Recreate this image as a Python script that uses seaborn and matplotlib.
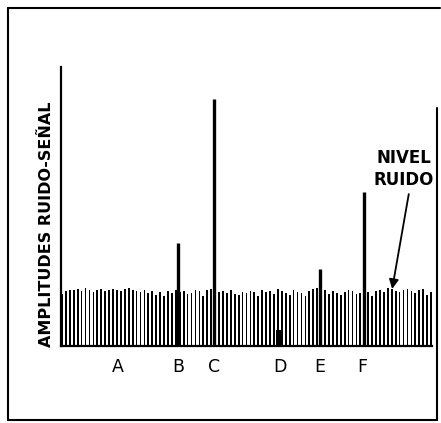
import matplotlib
matplotlib.use("Agg")
import matplotlib.pyplot as plt
from matplotlib.lines import Line2D
import pandas as pd
import seaborn as sns

# alturas del ruido (una barra por muestra)
ruido = [52, 55, 56, 56, 57, 55, 58, 56, 54, 56, 57, 55, 56, 57, 56, 55, 57, 58, 56, 55, 54, 56, 53, 55,
         51, 54, 50, 55, 53, 56, 54, 55, 52, 53, 56, 55, 50, 56, 57, 51, 54, 55, 53, 56, 52, 51, 54,
         53, 55, 54, 50, 56, 54, 55, 52, 57, 55, 53, 51, 56, 54, 53, 50, 55, 57, 58, 54, 56, 52, 55, 53,
         51, 54, 56, 55, 52, 53, 55, 54, 50, 55, 56, 54, 58, 57, 55, 54, 56, 57, 55, 53, 56, 57, 51, 54]

# picos de señal (B, C, E, F)
picos_pos = [29.6, 38.8, 65.6, 77.0]
picos_alt = [103, 247, 77, 154]

# bloque oscuro junto a D
bloque_pos = [55.2]
bloque_alt = [16]

etiquetas = ["A", "B", "C", "D", "E", "F"]
etiquetas_pos = [14.3, 29.5, 38.7, 55.5, 65.7, 76.6]

sns.set_style("white")
plt.rcParams["font.family"] = ["DejaVu Sans"]
plt.rcParams["text.color"] = "black"
plt.rcParams["axes.labelcolor"] = "black"
plt.rcParams["xtick.color"] = "black"

fig = plt.figure(figsize=(4.41, 4.23), dpi=100)
ax = fig.add_axes([61 / 441, 1 - 346 / 423, (432 - 61) / 441, (346 - 67) / 423])

df = pd.DataFrame({"pos": range(len(ruido)), "amp": ruido})
sns.barplot(data=df, x="pos", y="amp", native_scale=True, color="black",
            width=0.45, saturation=1, linewidth=0, ax=ax)
ax.vlines(picos_pos, 0, picos_alt, color="black", linewidth=2.4)
ax.bar(bloque_pos, bloque_alt, width=1.3, color="black", linewidth=0)

ax.set_xlim(-0.25, 94.25)
ax.set_ylim(0, 279)
sns.despine(ax=ax)
for s in ["left", "bottom"]:
    ax.spines[s].set_color("black")
    ax.spines[s].set_linewidth(1.6)

ax.set_xticks(etiquetas_pos)
ax.set_xticklabels(etiquetas, fontsize=12.5)
ax.tick_params(axis="x", length=0, pad=9)
ax.set_yticks([])
ax.set_xlabel("")
ax.set_ylabel("AMPLITUDES RUIDO-SEÑAL", fontsize=11.5, fontweight="bold")
ax.yaxis.set_label_coords(-0.02, 0.437)

ax.annotate("NIVEL\nRUIDO", xy=(84.1, 57), xytext=(87.0, 177),
            ha="center", va="center", fontsize=12, fontweight="bold", linespacing=1.35,
            arrowprops=dict(arrowstyle="-|>", color="black", lw=1.3, mutation_scale=14,
                            relpos=(0.6, 0.0), shrinkA=1, shrinkB=0))

# marco exterior
for xs, ys in [([8, 8], [8, 420]), ([8, 440], [8, 8]), ([437, 437], [108, 420]), ([8, 437], [420, 420])]:
    fig.add_artist(Line2D([x / 441 for x in xs], [1 - y / 423 for y in ys],
                          color="black", linewidth=1.5))

fig.savefig("out.png", dpi=100)
